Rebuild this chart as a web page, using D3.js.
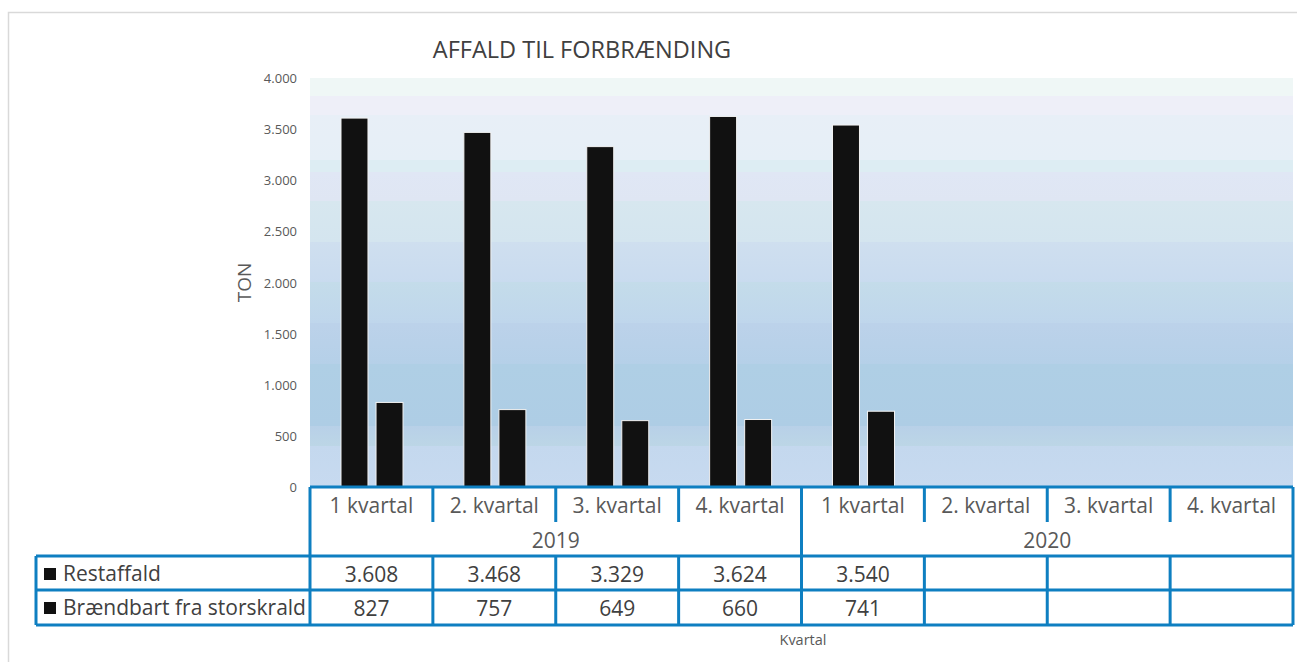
<!DOCTYPE html>
<html>
<head>
<meta charset="utf-8">
<script src="https://cdn.jsdelivr.net/npm/d3@7"></script>
<style>
  body { margin: 0; background: #fff; }
  text { font-family: "Open Sans", "Noto Sans", sans-serif; }
</style>
</head>
<body>
<div class="main"></div>
<script>
const WIDTH = 1297;
const HEIGHT = 662;

// data
const quarters = ["1 kvartal", "2. kvartal", "3. kvartal", "4. kvartal",
                  "1 kvartal", "2. kvartal", "3. kvartal", "4. kvartal"];
const years = ["2019", "2020"];
const seriesNames = ["Restaffald", "Brændbart fra storskrald"];
const restaffald = [3608, 3468, 3329, 3624, 3540, null, null, null];
const braendbart = [827, 757, 649, 660, 741, null, null, null];
const yTicks = [0, 500, 1000, 1500, 2000, 2500, 3000, 3500, 4000];

const series = [restaffald, braendbart];

// layout
const plotLeft = 310, plotRight = 1293, plotTop = 78, plotBottom = 487;
const rowHead = 522, rowYear = 556, row1 = 590, row2 = 625, tableLeft = 36;
const BLUE = "#0e7fc1";
const FS = 21;

var locale = d3.formatLocale({ decimal: ",", thousands: ".", grouping: [3], currency: ["", ""] });
var fmt = locale.format(",");

var svg = d3.select(".main")
    .append("svg")
        .attr("width", WIDTH)
        .attr("height", HEIGHT);

// outer frame
svg.append("rect")
    .attr("x", 8.5).attr("y", 12.5)
    .attr("width", WIDTH + 20).attr("height", HEIGHT + 20)
    .attr("fill", "none")
    .attr("stroke", "#d9d9d9")
    .attr("stroke-width", 1.5);

var x = d3.scaleBand()
    .domain(d3.range(quarters.length))
    .range([plotLeft, plotRight]);

var inner = d3.scaleBand()
    .domain(d3.range(series.length))
    .range([31, 93])
    .paddingInner(0.23);

var y = d3.scaleLinear()
    .domain([0, 4000])
    .range([plotBottom, plotTop]);

// plot area background (banded light blue)
var stops = [
    [0.00, "#eff7f6"], [0.045, "#eff7f6"], [0.045, "#eeeff8"], [0.09, "#eeeff8"],
    [0.09, "#e8eff7"], [0.2, "#e6eff7"], [0.2, "#ddedf3"], [0.23, "#ddedf3"],
    [0.23, "#e0e7f5"], [0.3, "#dfe6f3"], [0.3, "#d7e7ef"], [0.4, "#d4e5ef"],
    [0.4, "#cfdfef"], [0.5, "#c9dbef"], [0.5, "#c4dcea"], [0.6, "#bfd6ec"],
    [0.6, "#bcd2ea"], [0.7, "#b5d0e8"], [0.7, "#afcfe5"], [0.85, "#aecde5"],
    [0.85, "#b8d0e8"], [0.9, "#bcd6e6"], [0.9, "#c4d8ee"], [1.0, "#c7daf0"]
];
var grad = svg.append("defs").append("linearGradient")
    .attr("id", "bg")
    .attr("x1", 0).attr("y1", 0).attr("x2", 0).attr("y2", 1);
grad.selectAll("stop")
    .data(stops)
    .join("stop")
    .attr("offset", d => d[0])
    .attr("stop-color", d => d[1]);

svg.append("rect")
    .attr("x", plotLeft).attr("y", plotTop)
    .attr("width", plotRight - plotLeft).attr("height", plotBottom - plotTop)
    .attr("fill", "url(#bg)");

// title
svg.append("text")
    .attr("x", 582).attr("y", 58)
    .attr("text-anchor", "middle")
    .attr("font-size", 23.5)
    .attr("fill", "#404040")
    .text("AFFALD TIL FORBRÆNDING");

// y axis labels
svg.append("g")
    .selectAll("text")
    .data(yTicks)
    .join("text")
    .attr("x", 297)
    .attr("y", d => y(d) + 5)
    .attr("text-anchor", "end")
    .attr("font-size", 13)
    .attr("fill", "#595959")
    .text(d => fmt(d));

svg.append("text")
    .attr("transform", "translate(251," + (plotTop + plotBottom) / 2 + ") rotate(-90)")
    .attr("text-anchor", "middle")
    .attr("font-size", 19)
    .attr("fill", "#595959")
    .text("TON");

// bars
var groups = svg.append("g")
    .selectAll("g")
    .data(series)
    .join("g");

groups.selectAll("rect")
    .data((s, i) => s.map((v, j) => ({ v: v, q: j, s: i })).filter(d => d.v != null))
    .join("rect")
    .attr("x", d => x(d.q) + inner(d.s))
    .attr("y", d => y(d.v))
    .attr("width", inner.bandwidth())
    .attr("height", d => plotBottom - y(d.v))
    .attr("fill", "#111111")
    .attr("stroke", "#f2f2f2")
    .attr("stroke-width", 1);

// data table
var table = svg.append("g")
    .attr("stroke", BLUE)
    .attr("stroke-width", 3)
    .attr("fill", "none");

var bounds = d3.range(quarters.length + 1).map(i => i < quarters.length ? x(i) : plotRight);
var yearBounds = [0, 4, 8];

[plotBottom, rowYear, row1, row2].forEach((yy, i) => {
    table.append("line")
        .attr("x1", i === 0 ? plotLeft : tableLeft).attr("x2", plotRight)
        .attr("y1", yy).attr("y2", yy);
});
table.append("line")
    .attr("x1", tableLeft).attr("x2", tableLeft)
    .attr("y1", rowYear).attr("y2", row2);

bounds.forEach((bx, i) => {
    if (yearBounds.includes(i)) {
        table.append("line").attr("x1", bx).attr("x2", bx).attr("y1", plotBottom).attr("y2", row2);
    } else {
        table.append("line").attr("x1", bx).attr("x2", bx).attr("y1", plotBottom).attr("y2", rowHead);
        table.append("line").attr("x1", bx).attr("x2", bx).attr("y1", rowYear).attr("y2", row2);
    }
});

// category labels
svg.append("g")
    .selectAll("text")
    .data(quarters)
    .join("text")
    .attr("x", (d, i) => x(i) + x.bandwidth() / 2)
    .attr("y", 513)
    .attr("text-anchor", "middle")
    .attr("font-size", FS)
    .attr("fill", "#595959")
    .text(d => d);

svg.append("g")
    .selectAll("text")
    .data(years)
    .join("text")
    .attr("x", (d, i) => (bounds[yearBounds[i]] + bounds[yearBounds[i + 1]]) / 2)
    .attr("y", 548)
    .attr("text-anchor", "middle")
    .attr("font-size", FS)
    .attr("fill", "#595959")
    .text(d => d);

// legend + values
var rowsY = [rowYear, row1];
seriesNames.forEach((name, si) => {
    var ry = rowsY[si];
    svg.append("rect")
        .attr("x", 44).attr("y", ry + 12)
        .attr("width", 12).attr("height", 12)
        .attr("fill", "#111111");
    svg.append("text")
        .attr("x", 63).attr("y", ry + 25)
        .attr("font-size", FS)
        .attr("fill", "#404040")
        .text(name);
    svg.append("g")
        .selectAll("text")
        .data(series[si].map((v, j) => ({ v: v, q: j })).filter(d => d.v != null))
        .join("text")
        .attr("x", d => x(d.q) + x.bandwidth() / 2)
        .attr("y", ry + 26)
        .attr("text-anchor", "middle")
        .attr("font-size", FS)
        .attr("fill", "#404040")
        .text(d => fmt(d.v));
});

svg.append("text")
    .attr("x", 803).attr("y", 645)
    .attr("text-anchor", "middle")
    .attr("font-size", 14.5)
    .attr("fill", "#595959")
    .text("Kvartal");
</script>
</body>
</html>
